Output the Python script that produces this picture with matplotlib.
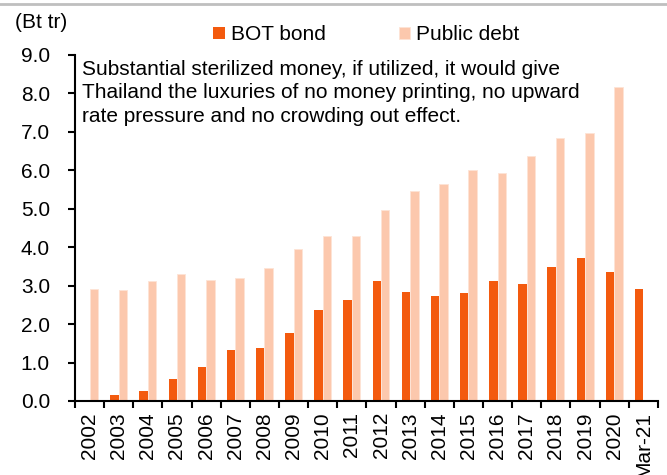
import numpy as np
import matplotlib
matplotlib.use("Agg")
import matplotlib.pyplot as plt
from matplotlib.lines import Line2D

plt.rcParams['font.family'] = ['Liberation Sans', 'DejaVu Sans']

years = ['2002', '2003', '2004', '2005', '2006', '2007', '2008', '2009', '2010',
         '2011', '2012', '2013', '2014', '2015', '2016', '2017', '2018', '2019',
         '2020', 'Mar-21']
bot_bond = [0.0, 0.15, 0.25, 0.57, 0.88, 1.32, 1.37, 1.77, 2.36, 2.62, 3.11,
            2.83, 2.73, 2.81, 3.12, 3.03, 3.47, 3.71, 3.36, 2.90]
public_debt = [2.91, 2.89, 3.11, 3.29, 3.15, 3.19, 3.45, 3.95, 4.29, 4.29, 4.96,
               5.45, 5.64, 6.01, 5.92, 6.37, 6.84, 6.97, 8.15, np.nan]

note = ("Substantial sterilized money, if utilized, it would give\n"
        "Thailand the luxuries of no money printing, no upward\n"
        "rate pressure and no crowding out effect.")

fs = 15

fig = plt.figure(figsize=(6.67, 4.75), dpi=100)
ax = fig.add_axes([0.1124, 0.1558, 0.874, 0.729])

x = np.arange(len(years))
w = 0.29
ax.bar(x - w / 2, bot_bond, width=w, color='#f35a0e', label='BOT bond')
ax.bar(x + w / 2, public_debt, width=w, color='#fcc8ad', edgecolor='#fde3d5',
       linewidth=0.6, label='Public debt')

ax.set_ylim(0, 9)
ax.set_xlim(-0.5, len(years) - 0.5)
ax.set_yticks(np.arange(0, 9.1, 1.0))
ax.set_yticklabels(['%.1f' % v for v in np.arange(0, 9.1, 1.0)], fontsize=fs)
ax.set_xticks(x)
ax.set_xticklabels(years, rotation=90, fontsize=fs)
ax.set_xticks(np.arange(-0.5, len(years)), minor=True)
ax.tick_params(axis='x', which='major', length=0, pad=8)
ax.tick_params(axis='x', which='minor', length=5, width=1.5, direction='out')
ax.tick_params(axis='y', length=5, width=1.5, direction='out', pad=13)

for s in ['top', 'right']:
    ax.spines[s].set_visible(False)
for s in ['left', 'bottom']:
    ax.spines[s].set_linewidth(1.5)

ax.text(0.012, 0.985, note, transform=ax.transAxes, fontsize=fs,
        va='top', ha='left', linespacing=1.3)

ax.legend(loc='lower center', bbox_to_anchor=(0.5, 1.0), ncol=2, frameon=False,
          fontsize=fs, handlelength=0.55, handleheight=0.55, handletextpad=0.3,
          columnspacing=3.5, borderaxespad=0.1)

fig.text(0.022, 0.952, '(Bt tr)', fontsize=fs, va='center', ha='left')
fig.add_artist(Line2D([0, 1], [0.992, 0.992], transform=fig.transFigure,
                      color='#bfbfbf', linewidth=2))

fig.savefig('out.png', dpi=100)
